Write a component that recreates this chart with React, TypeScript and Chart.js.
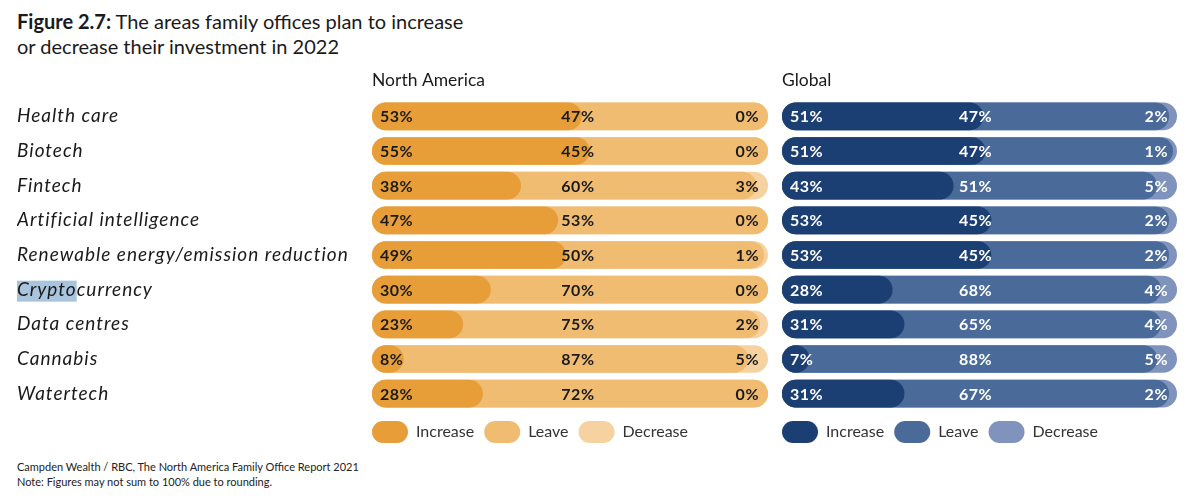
import React, { useEffect, useRef } from "react";
import { Chart, registerables } from "chart.js";

Chart.register(...registerables);

const categories = [
  "Health care",
  "Biotech",
  "Fintech",
  "Artificial intelligence",
  "Renewable energy/emission reduction",
  "Cryptocurrency",
  "Data centres",
  "Cannabis",
  "Watertech",
];
const seriesNames = ["Increase", "Leave", "Decrease"];

const naIncrease = [53, 55, 38, 47, 49, 30, 23, 8, 28];
const naLeave = [47, 45, 60, 53, 50, 70, 75, 87, 72];
const naDecrease = [0, 0, 3, 0, 1, 0, 2, 5, 0];

const glIncrease = [51, 51, 43, 53, 53, 28, 31, 7, 31];
const glLeave = [47, 47, 51, 45, 45, 68, 65, 88, 67];
const glDecrease = [2, 1, 5, 2, 2, 4, 4, 5, 2];

const naColors = ["#E89E38", "#F0BC72", "#F6D2A0"];
const glColors = ["#1C3F73", "#4A6A9A", "#7F93BD"];

const highlightedLabel = "Cryptocurrency";
const highlightedPart = "Crypto";

const FONT = "Lato, 'Noto Sans', sans-serif";
const LABEL_SPACING = "1px";

// layered (overlapping) rounded bars: each layer ends at the running total, normalised to 100
function layers(inc: number[], leave: number[], dec: number[]) {
  const totals = inc.map((v, i) => v + leave[i] + dec[i]);
  return [
    inc.map((v, i) => (v / totals[i]) * 100),
    inc.map((v, i) => ((v + leave[i]) / totals[i]) * 100),
    inc.map((v, i) => ((v + leave[i] + dec[i]) / totals[i]) * 100),
  ];
}

function valueLabels(values: number[][], color: string, midAt: number) {
  return {
    id: "valueLabels",
    afterDatasetsDraw(chart: any) {
      const { ctx } = chart;
      const x = chart.scales.x;
      const y = chart.scales.y;
      ctx.save();
      ctx.font = `bold 16px ${FONT}`;
      (ctx as any).letterSpacing = "0.5px";
      ctx.fillStyle = color;
      ctx.textBaseline = "middle";
      values[0].forEach((_: number, i: number) => {
        const py = y.getPixelForValue(i) + 1;
        ctx.textAlign = "left";
        ctx.fillText(values[0][i] + "%", x.getPixelForValue(0) + 8, py);
        ctx.textAlign = "center";
        ctx.fillText(values[1][i] + "%", x.getPixelForValue(midAt), py);
        ctx.textAlign = "right";
        ctx.fillText(values[2][i] + "%", x.getPixelForValue(100) - 9, py);
      });
      ctx.restore();
      // category tick labels (drawn after datasets, z = 1) get a little letter spacing
      (ctx as any).letterSpacing = LABEL_SPACING;
    },
    afterDraw(chart: any) {
      (chart.ctx as any).letterSpacing = "0px";
    },
  };
}

const LEGEND_PAD = 10;
const legendShift = {
  id: "legendShift",
  afterLayout(chart: any) {
    const l = chart.legend;
    if (l) {
      l.left -= LEGEND_PAD;
      l.right -= LEGEND_PAD;
    }
  },
};

const highlightPlugin = {
  id: "highlight",
  beforeDraw(chart: any) {
    const y = chart.scales.y;
    if (!y || !y.options.display) return;
    const idx = categories.indexOf(highlightedLabel);
    if (idx < 0) return;
    const ctx = chart.ctx;
    ctx.save();
    ctx.font = `italic 19px ${FONT}`;
    (ctx as any).letterSpacing = LABEL_SPACING;
    const w = ctx.measureText(highlightedPart).width;
    const py = y.getPixelForValue(idx);
    ctx.fillStyle = "#A9C5DE";
    ctx.fillRect(y.left, py - 9, w, 21);
    ctx.restore();
  },
};

function makeConfig(
  title: string,
  inc: number[],
  leave: number[],
  dec: number[],
  colors: string[],
  labelColor: string,
  midAt: number,
  showY: boolean,
  padLeft: number,
  padRight: number
): any {
  const data = layers(inc, leave, dec);
  return {
    type: "bar",
    data: {
      labels: categories,
      datasets: seriesNames.map((name, k) => ({
        label: name,
        data: data[k],
        backgroundColor: colors[k],
        borderWidth: 0,
        borderRadius: 14,
        borderSkipped: false,
        grouped: false,
        barPercentage: 0.8,
        categoryPercentage: 1,
      })),
    },
    options: {
      indexAxis: "y",
      animation: false,
      responsive: false,
      events: [],
      layout: { padding: { left: padLeft, right: padRight, top: 0, bottom: 0 } },
      scales: {
        x: { display: false, min: 0, max: 100 },
        y: {
          display: showY,
          grid: { display: false },
          border: { display: false },
          ticks: {
            z: 1,
            crossAlign: "far",
            padding: 0,
            color: "#1a1a1a",
            font: { family: FONT, size: 19, style: "italic" },
          },
          afterFit(scale: any) {
            if (showY) scale.width = 355;
          },
        },
      },
      plugins: {
        title: {
          display: true,
          text: title,
          align: "start",
          fullSize: false,
          color: "#1a1a1a",
          font: { family: FONT, size: 17.5, weight: "normal", lineHeight: 1.2 },
          padding: { top: 10, bottom: 8 },
        },
        legend: {
          display: true,
          position: "bottom",
          align: "start",
          fullSize: false,
          labels: {
            boxWidth: 36,
            boxHeight: 22,
            useBorderRadius: true,
            borderRadius: 11,
            padding: LEGEND_PAD,
            color: "#333333",
            font: { family: FONT, size: 16 },
          },
        },
        tooltip: { enabled: false },
      },
    },
    plugins: [valueLabels([inc, leave, dec], labelColor, midAt), legendShift, highlightPlugin],
  };
}

function Panel(props: { config: any; left: number; width: number; top: number; height: number }) {
  const ref = useRef<HTMLCanvasElement | null>(null);
  useEffect(() => {
    if (!ref.current) return;
    const chart = new Chart(ref.current, props.config);
    return () => chart.destroy();
  }, []);
  return (
    <canvas
      ref={ref}
      width={props.width}
      height={props.height}
      style={{ position: "absolute", left: props.left, top: props.top, width: props.width, height: props.height }}
    />
  );
}

export default function App() {
  const naConfig = makeConfig("North America", naIncrease, naLeave, naDecrease, naColors, "#1a1a1a", 52, true, 17, 7);
  const glConfig = makeConfig("Global", glIncrease, glLeave, glDecrease, glColors, "#ffffff", 49, false, 7, 23);
  return (
    <div
      style={{
        position: "absolute",
        left: 0,
        top: 0,
        width: 1200,
        height: 501,
        background: "#ffffff",
        fontFamily: FONT,
        color: "#1a1a1a",
        overflow: "hidden",
      }}
    >
      <div style={{ position: "absolute", left: 17, top: 9, fontSize: 20, lineHeight: "25px" }}>
        <span style={{ fontWeight: "bold" }}>Figure 2.7:</span> The areas family offices plan to increase
        <br />
        or decrease their investment in 2022
      </div>
      <Panel config={naConfig} left={0} width={775} top={60} height={393} />
      <Panel config={glConfig} left={775} width={425} top={60} height={393} />
      <div style={{ position: "absolute", left: 17, top: 459, fontSize: 11, lineHeight: "15px", color: "#222" }}>
        Campden Wealth / RBC, The North America Family Office Report 2021
        <br />
        Note: Figures may not sum to 100% due to rounding.
      </div>
    </div>
  );
}
